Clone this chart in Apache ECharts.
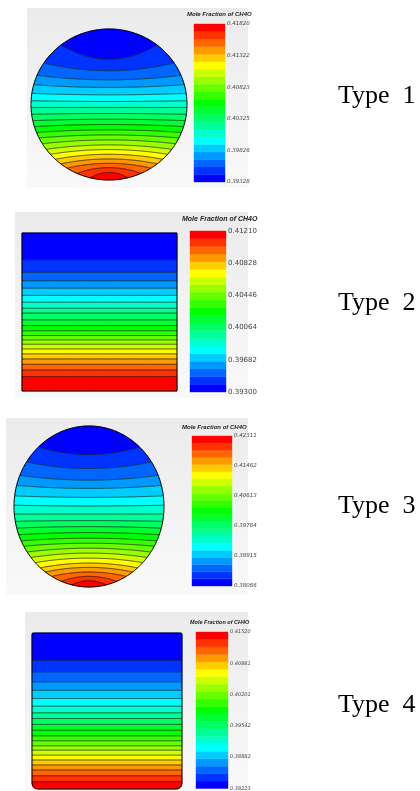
<!DOCTYPE html>
<html>
<head>
<meta charset="utf-8">
<script src="https://cdn.jsdelivr.net/npm/echarts@6/dist/echarts.min.js"></script>
<style>
  html, body { margin: 0; padding: 0; background: #fff; }
  #main { width: 420px; height: 791px; }
</style>
</head>
<body>
<div id="main"></div>
<script>
// ---- data ----
const typeNames = ['Type  1', 'Type  2', 'Type  3', 'Type  4'];
const legendTitle = 'Mole Fraction of CH4O';

const tickLabels1 = ['0.39328', '0.39826', '0.40325', '0.40823', '0.41322', '0.41820'];
const tickLabels2 = ['0.39300', '0.39682', '0.40064', '0.40446', '0.40828', '0.41210'];
const tickLabels3 = ['0.38066', '0.38915', '0.39764', '0.40613', '0.41462', '0.42311'];
const tickLabels4 = ['0.38223', '0.38882', '0.39542', '0.40201', '0.40861', '0.41520'];

// contour line heights at the centre, top to bottom (circle: -1..1, box: 0..1)
const levels1 = [0.60, 0.447, 0.327, 0.226, 0.128, 0.040, -0.040, -0.119, -0.195, -0.265,
  -0.336, -0.403, -0.469, -0.535, -0.597, -0.659, -0.721, -0.779, -0.836, -0.90];
const bends1 = [0.50, 0.15, 0.07, 0.04, 0.02, 0.01, 0, -0.01, -0.02, -0.03,
  -0.04, -0.05, -0.07, -0.09, -0.11, -0.14, -0.17, -0.22, -0.45, -1.2];

const levels2 = [0.831, 0.751, 0.698, 0.651, 0.605, 0.562, 0.524, 0.493, 0.450, 0.414,
  0.381, 0.351, 0.323, 0.296, 0.266, 0.235, 0.203, 0.169, 0.133, 0.091];

const levels3 = [0.645, 0.472, 0.328, 0.225, 0.113, 0.006, -0.093, -0.175, -0.250, -0.324,
  -0.394, -0.456, -0.518, -0.579, -0.641, -0.703, -0.756, -0.814, -0.868, -0.922];
const bends3 = [0.21, 0.12, 0.07, 0.04, 0.02, 0.01, 0, -0.01, -0.02, -0.03,
  -0.04, -0.05, -0.07, -0.09, -0.11, -0.14, -0.17, -0.22, -0.45, -0.96];

const levels4 = [0.825, 0.751, 0.687, 0.633, 0.580, 0.531, 0.488, 0.452, 0.414, 0.377,
  0.341, 0.309, 0.277, 0.249, 0.217, 0.186, 0.154, 0.122, 0.085, 0.047];

const BANDS = 21;

// ---- helpers ----
function bandColor(v) {
  // v: 0 = min (blue) .. 20 = max (red)
  const hp = 4 * (1 - v / (BANDS - 1));
  const x = 1 - Math.abs((hp % 2) - 1);
  let r = 0, g = 0, b = 0;
  if (hp < 1) { r = 1; g = x; }
  else if (hp < 2) { r = x; g = 1; }
  else if (hp < 3) { g = 1; b = x; }
  else if (hp < 4) { g = x; b = 1; }
  else { b = 1; }
  return 'rgb(' + Math.round(r * 255) + ',' + Math.round(g * 255) + ',' + Math.round(b * 255) + ')';
}

const circleShape = {
  x0: -1, x1: 1, y0: -1, y1: 1,
  top: x => Math.sqrt(Math.max(0, 1 - x * x)),
  bot: x => -Math.sqrt(Math.max(0, 1 - x * x))
};
const boxShape = { x0: 0, x1: 1, y0: 0, y1: 1, top: () => 1, bot: () => 0 };
const roundBoxShape = {
  x0: 0, x1: 1, y0: 0, y1: 1, top: () => 1,
  bot: x => {
    const rx = 0.035, ry = 0.034;
    const d = x < rx ? rx - x : (x > 1 - rx ? x - (1 - rx) : 0);
    return d > 0 ? ry * (1 - Math.sqrt(Math.max(0, 1 - (d / rx) * (d / rx)))) : 0;
  }
};

const panels = [
  { levels: levels1, bends: bends1, ticks: tickLabels1, shape: circleShape, outline: 'circle',
    plot: { left: 31, top: 29, width: 156, height: 151 },
    bar: { left: 194, top: 24, width: 31, height: 158 },
    head: { left: 187, top: 11, size: 6 }, bg: [27, 8, 221, 180],
    label: { size: 5.5, style: 'italic' }, typeTop: 83 },
  { levels: levels2, bends: null, ticks: tickLabels2, shape: boxShape, outline: 'box', r: 0,
    plot: { left: 22, top: 233, width: 155, height: 158 },
    bar: { left: 190, top: 231, width: 36, height: 161 },
    head: { left: 182, top: 216, size: 7 }, bg: [15, 212, 233, 186],
    label: { size: 7, style: 'normal' }, typeTop: 290 },
  { levels: levels3, bends: bends3, ticks: tickLabels3, shape: circleShape, outline: 'circle',
    plot: { left: 14, top: 426, width: 150, height: 161 },
    bar: { left: 192, top: 436, width: 40, height: 150 },
    head: { left: 182, top: 424, size: 6 }, bg: [6, 418, 242, 177],
    label: { size: 5.5, style: 'italic' }, typeTop: 493 },
  { levels: levels4, bends: null, ticks: tickLabels4, shape: roundBoxShape, outline: 'box', r: [2, 2, 6, 6],
    plot: { left: 32, top: 633, width: 150, height: 156 },
    bar: { left: 196, top: 632, width: 32, height: 157 },
    head: { left: 190, top: 619, size: 5.5 }, bg: [25, 612, 223, 179],
    label: { size: 5, style: 'italic' }, typeTop: 692 }
];

function lineY(p, i, x) {
  return p.levels[i] + (p.bends ? p.bends[i] * x * x : 0);
}

const N = 300;
function bandRender(p) {
  return function (params, api) {
    const k = api.value(0);
    const up = [], lo = [];
    for (let s = 0; s <= N; s++) {
      const x = p.shape.x0 + (p.shape.x1 - p.shape.x0) * s / N;
      let yu = p.shape.top(x), yl = p.shape.bot(x);
      if (k > 0) yu = Math.min(yu, lineY(p, k - 1, x));
      if (k < p.levels.length) yl = Math.max(yl, lineY(p, k, x));
      if (yu > yl) { up.push(api.coord([x, yu])); lo.push(api.coord([x, yl])); }
    }
    if (!up.length) return;
    const col = bandColor(k);
    return { type: 'polygon', shape: { points: up.concat(lo.reverse()) },
      style: { fill: col, stroke: col, lineWidth: 0.6 } };
  };
}

function lineRender(p) {
  return function (params, api) {
    const i = api.value(0);
    const pts = [];
    for (let s = 0; s <= N; s++) {
      const x = p.shape.x0 + (p.shape.x1 - p.shape.x0) * s / N;
      const y = lineY(p, i, x);
      if (y <= p.shape.top(x) && y >= p.shape.bot(x)) pts.push(api.coord([x, y]));
    }
    if (pts.length < 2) return;
    return { type: 'polyline', shape: { points: pts }, style: { stroke: '#111', lineWidth: 0.7, fill: null } };
  };
}

function outlineRender(p) {
  return function (params, api) {
    if (p.outline === 'circle') {
      const pts = [];
      for (let s = 0; s < 360; s++) {
        const a = s * Math.PI / 180;
        pts.push(api.coord([Math.cos(a), Math.sin(a)]));
      }
      return { type: 'polygon', shape: { points: pts }, style: { fill: null, stroke: '#000', lineWidth: 1 } };
    }
    const a = api.coord([0, 1]), b = api.coord([1, 0]);
    return { type: 'rect', shape: { x: a[0], y: a[1], width: b[0] - a[0], height: b[1] - a[1], r: p.r },
      style: { fill: null, stroke: '#000', lineWidth: 1 } };
  };
}

function barRender(params, api) {
  const v = api.value(0);
  const a = api.coord([0, (v + 1) * 5]), b = api.coord([1, v * 5]);
  const col = bandColor(v);
  return { type: 'rect', shape: { x: a[0], y: a[1], width: b[0] - a[0], height: b[1] - a[1] },
    style: { fill: col, stroke: col, lineWidth: 0.4 } };
}

const bandIdx = Array.from({ length: BANDS }, (_, i) => [i]);
const grid = [], xAxis = [], yAxis = [], series = [], title = [], graphic = [];

panels.forEach((p, n) => {
  const gi = grid.length;
  grid.push(Object.assign({ containLabel: false }, p.plot));
  xAxis.push({ gridIndex: gi, type: 'value', min: p.shape.x0, max: p.shape.x1, show: false });
  yAxis.push({ gridIndex: gi, type: 'value', min: p.shape.y0, max: p.shape.y1, show: false });
  series.push({ type: 'custom', xAxisIndex: gi, yAxisIndex: gi, z: 2, silent: true,
    renderItem: bandRender(p), data: bandIdx });
  series.push({ type: 'custom', xAxisIndex: gi, yAxisIndex: gi, z: 3, silent: true,
    renderItem: lineRender(p), data: p.levels.map((_, i) => [i]) });
  series.push({ type: 'custom', xAxisIndex: gi, yAxisIndex: gi, z: 4, silent: true,
    renderItem: outlineRender(p), data: [[0]] });

  const bi = grid.length;
  grid.push(Object.assign({ containLabel: false }, p.bar));
  xAxis.push({ gridIndex: bi, type: 'value', min: 0, max: 1, show: false });
  yAxis.push({
    gridIndex: bi, type: 'value', min: 0, max: 105, interval: 21, position: 'right',
    axisLine: { show: false }, axisTick: { show: false }, splitLine: { show: false },
    axisLabel: {
      margin: 2, fontSize: p.label.size, fontStyle: p.label.style, color: '#444',
      fontFamily: 'DejaVu Sans',
      formatter: v => p.ticks[Math.round(v / 21)]
    }
  });
  series.push({ type: 'custom', xAxisIndex: bi, yAxisIndex: bi, z: 2, silent: true,
    renderItem: barRender, data: bandIdx });

  title.push({
    text: legendTitle, left: p.head.left, top: p.head.top, padding: 0,
    textStyle: { fontSize: p.head.size, fontStyle: 'italic', fontWeight: 'bold', color: '#222',
      fontFamily: 'Liberation Sans' }
  });
  title.push({
    text: typeNames[n], left: 338, top: p.typeTop, padding: 0,
    textStyle: { fontSize: 26, fontWeight: 'normal', color: '#000', fontFamily: 'Liberation Serif' }
  });

  graphic.push({
    type: 'rect', z: -10, silent: true,
    shape: { x: p.bg[0], y: p.bg[1], width: p.bg[2], height: p.bg[3] },
    style: { fill: new echarts.graphic.LinearGradient(0, 0, 0, 1, [
      { offset: 0, color: '#ebebeb' }, { offset: 1, color: '#f9f9f9' }
    ]) }
  });
});

const chart = echarts.init(document.getElementById('main'), null, { renderer: 'canvas' });
chart.setOption({
  backgroundColor: '#fff',
  animation: false,
  title,
  graphic,
  grid,
  xAxis,
  yAxis,
  series
});
</script>
</body>
</html>
